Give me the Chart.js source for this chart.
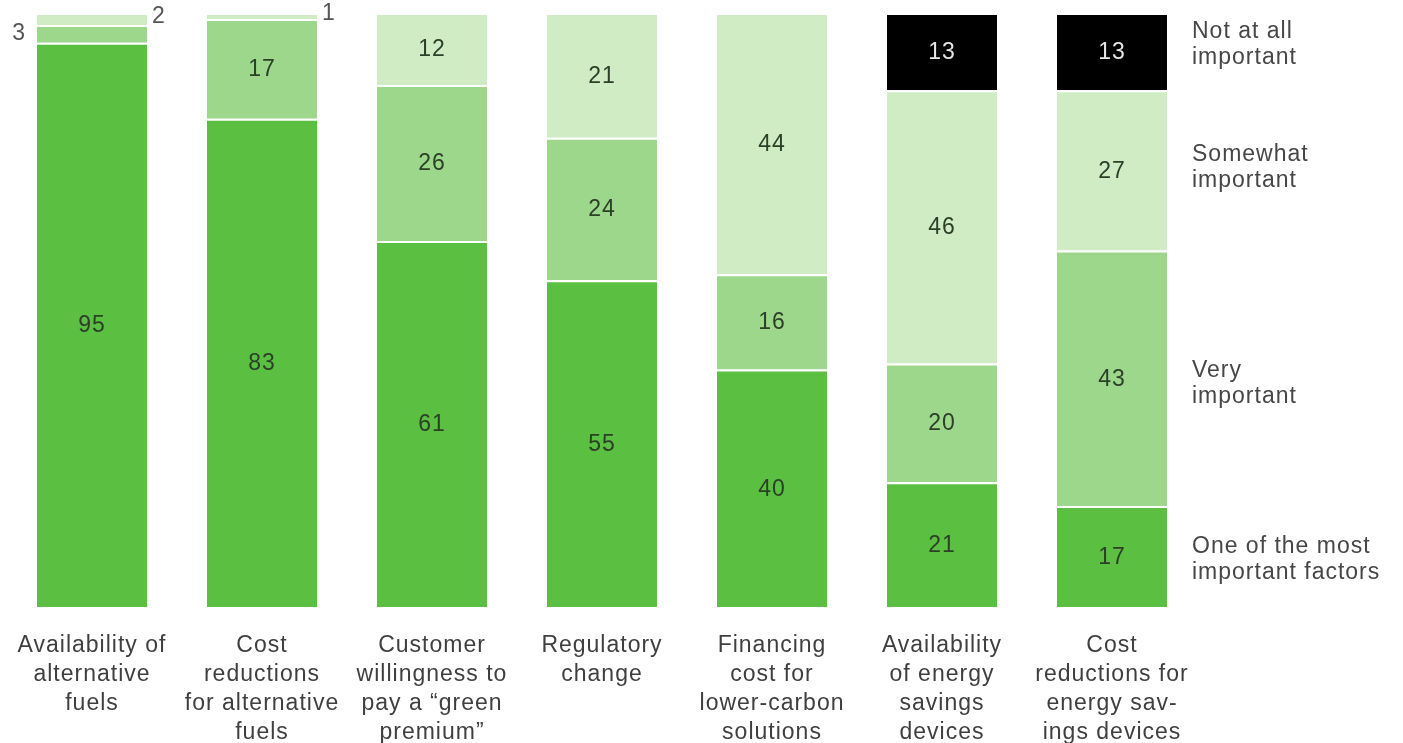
<!DOCTYPE html>
<html>
<head>
<meta charset="utf-8">
<script src="https://cdn.jsdelivr.net/npm/chart.js@4/dist/chart.umd.min.js"></script>
<style>
html,body{margin:0;padding:0;background:#fff;}
#wrap{width:1403px;height:743px;position:relative;}
</style>
</head>
<body>
<div id="wrap"><canvas id="c" width="1403" height="743"></canvas></div>
<script>
const categories = [
  ["Availability of","alternative","fuels"],
  ["Cost","reductions","for alternative","fuels"],
  ["Customer","willingness to","pay a \u201cgreen","premium\u201d"],
  ["Regulatory","change"],
  ["Financing","cost for","lower-carbon","solutions"],
  ["Availability","of energy","savings","devices"],
  ["Cost","reductions for","energy sav-","ings devices"]
];
const seriesNames = [
  ["One of the most","important factors"],
  ["Very","important"],
  ["Somewhat","important"],
  ["Not at all","important"]
];
const mostImportant = [95, 83, 61, 55, 40, 21, 17];
const veryImportant = [3, 17, 26, 24, 16, 20, 43];
const somewhatImportant = [2, 1, 12, 21, 44, 46, 27];
const notImportant = [0, 0, 0, 0, 0, 13, 13];
const colors = ["#5bbf42", "#9dd78b", "#cfecc5", "#000000"];

const raw = [mostImportant, veryImportant, somewhatImportant, notImportant];
const totals = categories.map((_, i) => raw.reduce((s, a) => s + a[i], 0));
const FONT = "'Liberation Sans', Arial, Helvetica, sans-serif";
const SPACING = "1px";
const sideLabelShift = [3, 5, -3, -7];

const datasets = raw.map((arr, k) => ({
  label: seriesNames[k].join(" "),
  data: arr.map((v, i) => v / totals[i] * 100),
  rawValues: arr,
  backgroundColor: colors[k],
  borderColor: "#ffffff",
  borderWidth: {top: 2, bottom: 0, left: 0, right: 0},
  borderSkipped: false,
  barPercentage: 0.647,
  categoryPercentage: 1.0
}));

const spacingPlugin = {
  id: "spacing",
  beforeDraw(chart) { try { chart.ctx.letterSpacing = SPACING; } catch (e) {} },
  afterDraw(chart) { try { chart.ctx.letterSpacing = "0px"; } catch (e) {} }
};

const labelPlugin = {
  id: "segLabels",
  afterDatasetsDraw(chart) {
    const ctx = chart.ctx;
    ctx.save();
    try { ctx.letterSpacing = SPACING; } catch (e) {}
    ctx.textBaseline = "middle";
    chart.data.datasets.forEach((ds, k) => {
      const meta = chart.getDatasetMeta(k);
      meta.data.forEach((bar, i) => {
        const v = ds.rawValues[i];
        if (!v) return;
        const top = Math.min(bar.y, bar.base), bot = Math.max(bar.y, bar.base);
        const h = bot - top;
        const cy = (top + bot) / 2;
        ctx.font = "23px " + FONT;
        if (h < 30) {
          ctx.fillStyle = "#555555";
          ctx.font = "23px " + FONT;
          if (k === 1) {
            ctx.textAlign = "right";
            ctx.fillText(String(v), bar.x - bar.width / 2 - 11, cy);
          } else {
            ctx.textAlign = "left";
            ctx.fillText(String(v), bar.x + bar.width / 2 + 5, cy - 2);
          }
        } else {
          ctx.textAlign = "center";
          ctx.fillStyle = (k === 3) ? "#e6e6e6" : "#2c3f27";
          ctx.fillText(String(v), bar.x, cy + 1);
        }
      });
    });
    // right-side series labels aligned to last bar
    const last = categories.length - 1;
    ctx.textAlign = "left";
    ctx.fillStyle = "#474747";
    ctx.font = "23px " + FONT;
    chart.data.datasets.forEach((ds, k) => {
      const bar = chart.getDatasetMeta(k).data[last];
      const top = Math.min(bar.y, bar.base), bot = Math.max(bar.y, bar.base);
      const cy = (top + bot) / 2 + sideLabelShift[k];
      const lines = seriesNames[k];
      const lh = 26;
      const x = bar.x + bar.width / 2 + 25;
      lines.forEach((ln, j) => {
        ctx.fillText(ln, x, cy + (j - (lines.length - 1) / 2) * lh);
      });
    });
    ctx.restore();
  }
};

new Chart(document.getElementById("c"), {
  type: "bar",
  data: { labels: categories, datasets },
  options: {
    responsive: false,
    animation: false,
    devicePixelRatio: 1,
    layout: { padding: { left: 7, right: 206, top: 13, bottom: 0 } },
    plugins: { legend: { display: false }, tooltip: { enabled: false } },
    scales: {
      x: {
        stacked: true,
        grid: { display: false, drawTicks: false },
        border: { display: false },
        ticks: {
          color: "#3f3f3f",
          padding: 24,
          maxRotation: 0,
          autoSkip: false,
          font: { family: FONT, size: 23, lineHeight: 1.26 }
        },
        afterFit(scale) { scale.height = 136; }
      },
      y: {
        stacked: true,
        display: false,
        min: 0,
        max: 100
      }
    }
  },
  plugins: [spacingPlugin, labelPlugin]
});
</script>
</body>
</html>
